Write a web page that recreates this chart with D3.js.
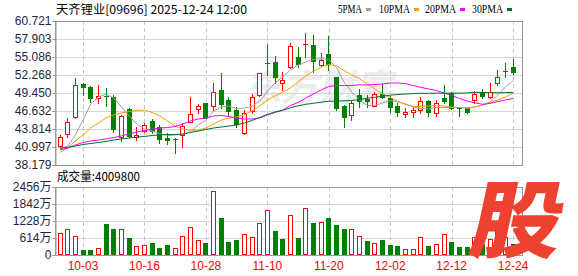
<!DOCTYPE html>
<html>
<head>
<meta charset="utf-8">
<script src="https://cdn.jsdelivr.net/npm/d3@7"></script>
<style>
  body { margin: 0; background: #fff; }
  svg text { font-family: "Liberation Sans", Arial, sans-serif; }
</style>
</head>
<body>
<div id="kline-chart"></div>
<script>
// 天齐锂业 09696, daily candles 2025-09-29 .. 2025-12-24
const dates = ["09-29","09-30","10-02","10-03","10-06","10-08","10-09","10-10","10-13","10-14",
  "10-15","10-16","10-17","10-20","10-21","10-22","10-23","10-24","10-27","10-28",
  "10-30","10-31","11-03","11-04","11-05","11-06","11-07","11-10","11-11","11-12",
  "11-13","11-14","11-17","11-18","11-19","11-20","11-21","11-24","11-25","11-26",
  "11-27","11-28","12-01","12-02","12-03","12-04","12-05","12-08","12-09","12-10",
  "12-11","12-12","12-15","12-16","12-17","12-18","12-19","12-22","12-23","12-24"];
const opens = [41.15,42.99,45.65,50.86,50.44,48.62,48.98,48.78,42.52,46.90,
  42.60,43.55,45.07,44.17,42.41,42.17,42.87,44.96,46.99,47.90,
  47.42,49.92,48.35,46.79,43.14,46.63,49.14,54.05,54.26,51.06,
  53.47,55.13,57.02,56.96,53.79,55.56,51.91,47.42,46.01,49.14,
  48.51,47.42,49.29,48.62,47.42,46.11,46.43,46.79,48.20,46.37,
  48.62,49.40,47.10,47.06,48.35,49.56,48.87,50.97,52.90,53.47];
const highs = [42.87,45.58,51.75,51.00,50.60,50.70,50.23,49.14,46.01,47.06,
  44.17,44.71,45.33,44.44,43.19,42.33,44.80,48.78,47.73,47.95,
  50.97,52.53,48.87,47.31,46.79,49.29,52.60,57.12,55.24,52.74,
  57.23,56.70,58.89,58.53,55.76,58.37,52.00,47.50,48.24,50.03,
  49.14,49.65,50.81,48.98,47.84,47.10,47.31,48.87,48.35,48.35,
  50.70,49.65,47.31,47.31,49.81,50.03,50.97,53.05,54.19,54.73];
const lows = [40.99,42.52,45.50,49.14,48.09,47.93,47.40,43.39,41.98,42.61,
  42.09,43.39,43.14,41.67,41.39,40.10,41.04,44.91,46.37,45.50,
  46.79,47.06,46.01,44.17,43.10,46.37,49.00,52.27,51.06,49.92,
  53.40,53.57,55.13,52.78,53.70,53.05,46.79,44.17,45.22,47.31,
  47.31,47.40,48.62,46.52,45.90,45.74,45.74,46.27,45.90,45.90,
  47.93,46.94,45.90,46.27,47.93,48.62,48.62,50.70,51.91,52.38];
const closes = [42.56,44.86,50.70,50.44,48.62,48.98,48.75,43.81,45.85,42.75,
  42.80,44.39,43.50,42.20,42.17,42.20,44.33,46.11,47.37,45.58,
  49.65,47.73,46.63,44.55,46.37,48.78,52.53,54.10,51.91,51.48,
  56.85,53.99,57.07,54.51,54.62,53.94,47.06,45.74,47.84,48.24,
  48.20,49.25,48.78,47.31,46.52,46.55,46.74,48.20,46.52,47.84,
  48.20,47.06,47.00,46.52,49.29,49.03,49.65,51.91,52.97,52.69];
// volume in 万 shares
const volumes = [784,928,686,181,181,242,1120,939,928,614,
  325,361,433,264,361,253,686,1011,542,433,
  2311,1347,469,542,747,650,1144,1625,867,578,
  1444,626,1685,1144,1180,1347,1083,939,928,675,
  505,422,542,361,325,206,206,639,325,386,
  747,469,289,300,650,397,560,900,639,401];
const ma5 = [40.68,41.15,42.88,45.22,47.73,48.82,49.29,48.67,47.26,45.85,
  44.60,43.81,43.50,43.11,42.80,42.88,42.95,43.42,44.44,45.22,
  46.63,47.26,47.42,47.02,47.10,47.34,48.20,49.76,51.02,51.96,
  53.05,53.83,54.30,54.69,54.85,54.69,53.44,51.17,49.61,48.35,
  47.49,47.49,47.89,48.28,48.04,47.73,47.26,47.02,46.95,47.18,
  47.18,47.18,47.18,47.10,47.26,47.57,48.04,49.14,50.39,51.33];
const ma10 = [40.14,40.84,41.94,42.88,43.97,44.75,45.54,46.01,46.32,46.55,
  46.71,46.79,46.40,45.85,45.07,44.28,43.81,43.58,43.66,43.97,
  44.60,45.22,45.54,45.69,46.01,46.63,47.42,48.35,48.98,49.61,
  50.23,51.17,52.11,52.89,53.52,53.91,53.68,52.97,52.27,51.72,
  50.86,50.08,49.29,48.75,48.12,47.65,47.34,47.34,47.42,47.49,
  47.42,47.26,47.18,47.10,47.26,47.57,47.96,48.35,48.82,49.45];
const ma20 = [40.53,40.84,41.31,41.70,41.94,42.09,42.25,42.48,42.72,43.03,
  43.35,43.58,43.81,43.97,44.05,44.21,44.60,45.07,45.38,45.54,
  45.85,45.93,45.77,45.54,45.38,45.38,45.54,46.01,46.40,46.79,
  47.49,47.96,48.67,49.29,49.92,50.47,50.62,50.62,50.62,50.73,
  50.70,50.77,50.86,51.02,51.02,50.92,50.62,50.33,50.08,49.84,
  49.45,49.06,48.59,48.20,47.93,47.68,47.81,48.12,48.35,48.59];
const ma30 = [40.79,40.95,41.15,41.39,41.55,41.70,41.86,42.09,42.25,42.41,
  42.56,42.64,42.80,42.88,42.95,42.95,43.03,43.27,43.50,43.74,
  43.97,44.13,44.28,44.44,44.75,45.15,45.62,46.09,46.48,46.74,
  47.13,47.45,47.68,47.84,48.01,48.17,48.17,48.23,48.29,48.43,
  48.62,48.78,48.95,49.11,49.22,49.29,49.36,49.40,49.40,49.43,
  49.42,49.42,49.42,49.47,49.53,49.53,49.51,49.48,49.51,49.53];
const priceTicks = [60.721, 57.903, 55.086, 52.268, 49.450, 46.632, 43.814, 40.997, 38.179];
const volumeTicks = [0, 614, 1228, 1842, 2456];
const dateLabels = ["10-03","10-16","10-28","11-10","11-20","12-02","12-12","12-24"];

const RED = "#ff0000", GREEN = "#008000";
const frame = { left: 56, right: 522, priceTop: 21, priceBottom: 165, volTop: 187, volBottom: 255 };

const svg = d3.select("#kline-chart").append("svg")
  .attr("width", 578)
  .attr("height", 276);

let x = d3.scaleBand()
  .domain(dates)
  .range([57.5, 57.5 + 7.68 * (dates.length - 0.35)])
  .paddingInner(0.35)
  .paddingOuter(0);
let xc = d => x(d) + x.bandwidth() / 2;
let yPrice = d3.scaleLinear().domain([38.179, 60.721]).range([frame.priceBottom, frame.priceTop]);
let yVol = d3.scaleLinear().domain([0, 2456]).range([frame.volBottom, frame.volTop]);

// title + legend
svg.append("text")
  .attr("x", 56).attr("y", 13.5)
  .attr("textLength", 191).attr("lengthAdjust", "spacingAndGlyphs")
  .style("font-family", "'Noto Sans CJK SC', sans-serif")
  .style("font-size", "12px").attr("fill", "#000")
  .text("天齐锂业[09696] 2025-12-24 12:00");

const legend = [
  { name: "5PMA", color: "#a0a0a0", x: 338, w: 24 },
  { name: "10PMA", color: "#f0a000", x: 379, w: 31 },
  { name: "20PMA", color: "#ff00ff", x: 425, w: 31 },
  { name: "30PMA", color: "#006f2e", x: 472, w: 31 }
];
legend.forEach(l => {
  svg.append("text").attr("x", l.x).attr("y", 13)
    .attr("textLength", l.w).attr("lengthAdjust", "spacingAndGlyphs")
    .style("font-family", "'Liberation Serif', serif").style("font-size", "12px")
    .attr("fill", "#000").text(l.name);
  svg.append("rect").attr("x", l.x + l.w + 4).attr("y", 8).attr("width", 5).attr("height", 3)
    .attr("fill", l.color);
});

// watermark
svg.append("text")
  .attr("x", 318).attr("y", 101)
  .attr("text-anchor", "middle")
  .style("font-family", "'Noto Sans CJK SC', sans-serif")
  .style("font-size", "37px").style("font-weight", "bold").style("font-style", "italic")
  .attr("fill", "#ececec")
  .text("东方财富");

// grid
const grid = svg.append("g").attr("stroke", "#d6d6d6").attr("shape-rendering", "crispEdges");
priceTicks.slice(1, -1).forEach(t => {
  let yy = Math.round(yPrice(t)) + 0.5;
  grid.append("line").attr("x1", frame.left).attr("x2", frame.right).attr("y1", yy).attr("y2", yy);
});
volumeTicks.slice(1, -1).forEach(t => {
  let yy = Math.round(yVol(t)) + 0.5;
  grid.append("line").attr("x1", frame.left).attr("x2", frame.right).attr("y1", yy).attr("y2", yy);
});
dateLabels.forEach(d => {
  let xx = Math.round(xc(d)) + 0.5;
  grid.append("line").attr("x1", xx).attr("x2", xx)
    .attr("y1", frame.priceTop).attr("y2", frame.priceBottom)
    .attr("stroke", "#c8c8c8").attr("stroke-dasharray", "4,3");
  grid.append("line").attr("x1", xx).attr("x2", xx)
    .attr("y1", frame.volTop).attr("y2", frame.volBottom)
    .attr("stroke", "#c8c8c8").attr("stroke-dasharray", "4,3");
});

const candles = dates.map((d, i) => ({
  date: d, open: opens[i], high: highs[i], low: lows[i], close: closes[i], volume: volumes[i], i: i
}));

// candles
const cg = svg.append("g").attr("shape-rendering", "crispEdges");
candles.forEach(d => {
  let bx = Math.round(x(d.date));
  let up = d.close >= d.open;
  let col = up ? RED : GREEN;
  let top = Math.round(yPrice(Math.max(d.open, d.close)));
  let bot = Math.round(yPrice(Math.min(d.open, d.close)));
  cg.append("line")
    .attr("x1", bx + 2.5).attr("x2", bx + 2.5)
    .attr("y1", Math.round(yPrice(d.high))).attr("y2", Math.round(yPrice(d.low)) + 1)
    .attr("stroke", col);
  if (bot - top < 2) {
    cg.append("rect").attr("x", bx).attr("y", top).attr("width", 5).attr("height", Math.max(1, bot - top))
      .attr("fill", col);
  } else if (up) {
    cg.append("rect").attr("x", bx + 0.5).attr("y", top + 0.5).attr("width", 4).attr("height", bot - top)
      .attr("fill", "#fff").attr("stroke", col);
  } else {
    cg.append("rect").attr("x", bx).attr("y", top).attr("width", 5).attr("height", bot - top + 1)
      .attr("fill", col);
  }
});

// moving averages
const maSeries = [
  { values: ma5, color: "#a0a0a0" },
  { values: ma10, color: "#f0a000" },
  { values: ma20, color: "#ff00ff" },
  { values: ma30, color: "#006f2e" }
];
let line = d3.line()
  .x((v, i) => xc(dates[i]))
  .y(v => yPrice(v));
svg.selectAll(".ma")
  .data(maSeries)
  .enter()
  .append("path")
  .attr("class", "ma")
  .attr("d", s => line(s.values))
  .attr("fill", "none")
  .attr("stroke", s => s.color)
  .attr("stroke-width", 1);

// volume bars (colour vs previous close)
const vg = svg.append("g").attr("shape-rendering", "crispEdges");
candles.forEach(d => {
  let bx = Math.round(x(d.date));
  let up = d.i === 0 ? d.close >= d.open : d.close >= closes[d.i - 1];
  let top = Math.round(yVol(d.volume));
  if (up) {
    vg.append("rect").attr("x", bx + 0.5).attr("y", top + 0.5).attr("width", 4)
      .attr("height", frame.volBottom - top - 1)
      .attr("fill", "#fff").attr("stroke", RED);
  } else {
    vg.append("rect").attr("x", bx).attr("y", top).attr("width", 5)
      .attr("height", frame.volBottom - top)
      .attr("fill", GREEN);
  }
});

// frames
svg.append("rect")
  .attr("x", frame.left - 0.5).attr("y", frame.priceTop + 0.5)
  .attr("width", frame.right - frame.left + 1).attr("height", frame.priceBottom - frame.priceTop)
  .attr("fill", "none").attr("stroke", "#999").attr("shape-rendering", "crispEdges");
svg.append("rect")
  .attr("x", frame.left - 0.5).attr("y", frame.volTop + 0.5)
  .attr("width", frame.right - frame.left + 1).attr("height", frame.volBottom - frame.volTop)
  .attr("fill", "none").attr("stroke", "#999").attr("shape-rendering", "crispEdges");

// axes
let priceAxis = svg.append("g")
  .attr("transform", `translate(${frame.left - 0.5},0)`)
  .call(d3.axisLeft(yPrice).tickValues(priceTicks).tickFormat(d3.format(".3f")).tickSize(3).tickPadding(1));
let volAxis = svg.append("g")
  .attr("transform", `translate(${frame.left - 0.5},0)`)
  .call(d3.axisLeft(yVol).tickValues(volumeTicks).tickFormat(d => d === 0 ? "0" : d + "万").tickSize(3).tickPadding(1));
[priceAxis, volAxis].forEach(a => {
  a.select(".domain").attr("stroke", "#999");
  a.selectAll(".tick line").attr("stroke", "#999");
  a.selectAll(".tick text")
    .attr("fill", "#1f2740")
    .style("font-size", "12px")
    .style("font-family", "'Liberation Sans', Arial, 'Noto Sans CJK SC', sans-serif");
});

svg.append("text")
  .attr("x", 57).attr("y", 181)
  .attr("textLength", 83).attr("lengthAdjust", "spacingAndGlyphs")
  .style("font-family", "'Noto Sans CJK SC', sans-serif")
  .style("font-size", "12px").attr("fill", "#000")
  .text("成交量:" + "4009800");

svg.selectAll(".date-label")
  .data(dateLabels)
  .enter()
  .append("text")
  .attr("class", "date-label")
  .attr("x", d => xc(d))
  .attr("y", 269.5)
  .attr("text-anchor", "middle")
  .attr("fill", RED)
  .style("font-size", "12px")
  .text(d => d);

// 股 badge
svg.append("text")
  .attr("transform", "translate(512,251) skewX(-12) scale(1.08,1)")
  .attr("text-anchor", "middle")
  .style("font-family", "'Noto Sans CJK SC', sans-serif")
  .style("font-size", "84px").style("font-weight", "900")
  .attr("fill", "#ee4130")
  .text("股");
</script>
</body>
</html>
